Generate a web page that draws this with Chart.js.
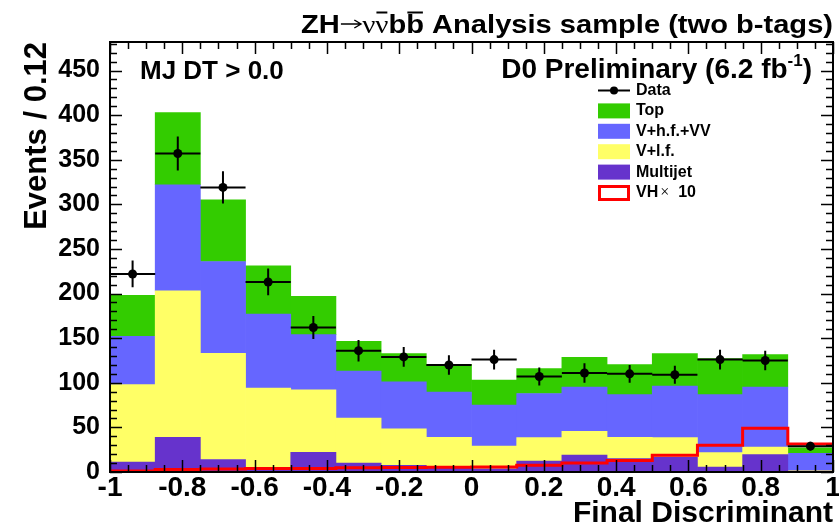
<!DOCTYPE html>
<html lang="en">
<head>
<meta charset="UTF-8">
<title>ZH analysis sample - final discriminant</title>
<script src="https://cdn.jsdelivr.net/npm/chart.js"></script>
<style>
  html, body { margin: 0; padding: 0; background: #fff; }
  #wrap { width: 839px; height: 530px; }
</style>
</head>
<body>
<div id="wrap"><canvas id="discChart" width="839" height="530"></canvas></div>
<script>
// histogram binning of the final discriminant (16 bins)
const binEdges = [-1, -0.875, -0.75, -0.625, -0.5, -0.375, -0.25, -0.125, 0,
                  0.125, 0.25, 0.375, 0.5, 0.625, 0.75, 0.875, 1];

// expected events per process, stacked bottom to top
const multijet = [11, 39, 14, 5, 22, 10, 7.5, 5.6, 3.5, 12.3, 19, 15, 16.8, 5.6, 19.5, 1];
const vlf      = [87, 164, 119, 89, 70, 50.5, 41, 33.4, 25.5, 26.2, 26.6, 24, 21.7, 16.1, 8.5, 0.5];
const vhfVV    = [54, 119, 103, 83, 62, 52.5, 52.5, 50.7, 46, 49.5, 49.7, 47.8, 57.9, 65.1, 67.3, 19.5];
const topBkg   = [46, 81, 69, 54, 43, 33.5, 31.7, 31, 28, 28, 33.3, 33.6, 36.3, 40.2, 36.3, 6];

// signal scaled by 10
const vhTimes10 = [1.2, 2.7, 3.4, 3.8, 4, 4.8, 5, 5.3, 5.6, 7.5, 10, 13, 18.7, 30, 49, 31.5];

// observed data and its errors
const dataCounts = [222, 357, 319, 213, 162, 136, 129, 120, 126, 107, 111, 110, 109, 126, 125, 29];
const dataErrors = [15, 19, 18, 15, 13, 12, 11, 11, 11, 10, 11, 10, 10, 11, 11, 5];

const xTickLabels = ['-1', '-0.8', '-0.6', '-0.4', '-0.2', '0', '0.2', '0.4', '0.6', '0.8', '1'];
const legendLabels = ['Data', 'Top', 'V+h.f.+VV', 'V+l.f.', 'Multijet', 'VH'];

const COLORS = {
  top: '#33cc00',
  vhf: '#6666ff',
  vlf: '#ffff66',
  mj: '#6633cc',
  vh: '#ff0000'
};
const FONT = "'Liberation Sans', Arial, Helvetica, sans-serif";
const SYMFONT = "'Liberation Serif', 'DejaVu Serif', serif";

const centers = binEdges.slice(0, -1).map((lo, i) => (lo + binEdges[i + 1]) / 2);
const asPoints = arr => arr.map((v, i) => ({ x: centers[i], y: v }));

function barSet(label, values, color) {
  return {
    type: 'bar',
    label: label,
    data: asPoints(values),
    backgroundColor: color,
    borderWidth: 0,
    barPercentage: 1,
    categoryPercentage: 1,
    order: 3
  };
}

// draw a run of text pieces with their own fonts, right aligned at xRight;
// fitWidth stretches the run horizontally to that width
function drawPieces(ctx, pieces, xRight, baseline, fitWidth) {
  let total = 0;
  pieces.forEach(p => {
    if (p.text !== undefined) { ctx.font = p.font; p.w = ctx.measureText(p.text).width; }
    total += p.w;
  });
  ctx.save();
  ctx.translate(xRight, 0);
  if (fitWidth) ctx.scale(fitWidth / total, 1);
  let cx = -total;
  pieces.forEach(p => {
    if (p.draw) {
      p.draw(cx, baseline);
    } else {
      ctx.font = p.font;
      ctx.fillText(p.text, cx, baseline + (p.dy || 0));
    }
    if (p.bar) {
      ctx.save();
      ctx.lineWidth = 2;
      ctx.beginPath();
      ctx.moveTo(cx + 1, p.barY);
      ctx.lineTo(cx + p.w - 1, p.barY);
      ctx.stroke();
      ctx.restore();
    }
    cx += p.w;
  });
  ctx.restore();
}

const rootStyle = {
  id: 'rootStyle',
  afterDatasetsDraw(chart) {
    const { ctx, scales: { x, y } } = chart;
    ctx.save();
    ctx.strokeStyle = '#000';
    ctx.lineWidth = 2;
    ctx.beginPath();
    dataCounts.forEach((n, i) => {
      const xl = x.getPixelForValue(binEdges[i]);
      const xh = x.getPixelForValue(binEdges[i + 1]);
      const xc = x.getPixelForValue(centers[i]);
      const yc = y.getPixelForValue(n);
      ctx.moveTo(xl, yc);
      ctx.lineTo(xh, yc);
      ctx.moveTo(xc, y.getPixelForValue(n - dataErrors[i]));
      ctx.lineTo(xc, y.getPixelForValue(n + dataErrors[i]));
    });
    ctx.stroke();
    ctx.restore();
  },
  afterDraw(chart) {
    const { ctx, chartArea: a, scales: { x, y } } = chart;
    ctx.save();
    ctx.strokeStyle = '#000';
    ctx.fillStyle = '#000';

    // tick marks on all four sides, pointing inwards
    ctx.lineWidth = 1.5;
    ctx.beginPath();
    for (let k = 0; k <= 40; k++) {
      const px = Math.round(x.getPixelForValue(-1 + k * 0.05)) + 0.5;
      const len = k % 4 === 0 ? 12 : 7;
      ctx.moveTo(px, a.bottom); ctx.lineTo(px, a.bottom - len);
      ctx.moveTo(px, a.top); ctx.lineTo(px, a.top + len);
    }
    for (let v = 0; v <= 480; v += 10) {
      const py = Math.round(y.getPixelForValue(v)) + 0.5;
      const len = v % 50 === 0 ? 12 : 7;
      ctx.moveTo(a.left, py); ctx.lineTo(a.left + len, py);
      ctx.moveTo(a.right, py); ctx.lineTo(a.right - len, py);
    }
    ctx.stroke();

    // frame
    ctx.lineWidth = 2;
    ctx.strokeRect(a.left, a.top, a.right - a.left, a.bottom - a.top);

    // axis titles
    ctx.textAlign = 'right';
    ctx.textBaseline = 'alphabetic';
    ctx.font = 'bold 30px ' + FONT;
    ctx.fillText('Final Discriminant', a.right, 522);
    ctx.save();
    ctx.font = 'bold 31px ' + FONT;
    ctx.translate(46, a.top);
    ctx.rotate(-Math.PI / 2);
    ctx.fillText('Events / 0.12', 0, 0);
    ctx.restore();

    // header line
    ctx.textAlign = 'left';
    const b26 = 'bold 26px ' + FONT, s26 = '26px ' + SYMFONT;
    const arrow = {
      w: 20,
      draw(cx, base) {
        const ay = base - 9;
        ctx.save();
        ctx.lineWidth = 1.3;
        ctx.beginPath();
        ctx.moveTo(cx + 1, ay); ctx.lineTo(cx + 19, ay);
        ctx.moveTo(cx + 13, ay - 4); ctx.lineTo(cx + 19, ay); ctx.lineTo(cx + 13, ay + 4);
        ctx.stroke();
        ctx.restore();
      }
    };
    drawPieces(ctx, [
      { text: 'ZH', font: b26 },
      arrow,
      { text: '\u03bd', font: s26 },
      { text: '\u03bd', font: s26, bar: true, barY: 12.5 },
      { text: 'b', font: b26 },
      { text: 'b', font: b26, bar: true, barY: 12.5 },
      { text: ' Analysis sample (two b-tags)', font: b26 }
    ], 833, 33, 532);

    ctx.font = 'bold 26px ' + FONT;
    ctx.fillText('MJ DT > 0.0', 140, 79);
    drawPieces(ctx, [
      { text: 'D0 Preliminary (6.2 fb', font: 'bold 28px ' + FONT },
      { text: '-1', font: 'bold 17px ' + FONT, dy: -12 },
      { text: ')', font: 'bold 28px ' + FONT }
    ], 812, 78);

    // legend
    const lx = 598, lw = 32, tx = 636;
    const rows = legendLabels.map((t, i) => 90.5 + i * 20.4);
    const fills = [null, COLORS.top, COLORS.vhf, COLORS.vlf, COLORS.mj, null];
    ctx.textBaseline = 'middle';
    legendLabels.forEach((label, i) => {
      const ry = rows[i];
      if (i === 0) {
        ctx.lineWidth = 2;
        ctx.beginPath();
        ctx.moveTo(lx, ry); ctx.lineTo(lx + lw, ry);
        ctx.stroke();
        ctx.beginPath();
        ctx.arc(lx + lw / 2, ry, 4, 0, Math.PI * 2);
        ctx.fill();
      } else if (i === legendLabels.length - 1) {
        ctx.lineWidth = 3;
        ctx.strokeStyle = COLORS.vh;
        ctx.strokeRect(lx + 1.5, ry - 6, lw - 3, 13);
        ctx.strokeStyle = '#000';
      } else {
        ctx.fillStyle = fills[i];
        ctx.fillRect(lx, ry - 7.5, lw, 15);
        ctx.fillStyle = '#000';
      }
      ctx.font = 'bold 16px ' + FONT;
      ctx.fillText(label, tx, ry);
      if (i === legendLabels.length - 1) {
        let w = ctx.measureText(label).width;
        ctx.font = '16px ' + SYMFONT;
        ctx.fillText('\u00d7', tx + w + 2, ry);
        w += ctx.measureText('\u00d7').width + 2;
        ctx.font = 'bold 16px ' + FONT;
        ctx.fillText('  10', tx + w, ry);
      }
    });
    ctx.restore();
  }
};

new Chart(document.getElementById('discChart'), {
  data: {
    datasets: [
      barSet('Multijet', multijet, COLORS.mj),
      barSet('V+l.f.', vlf, COLORS.vlf),
      barSet('V+h.f.+VV', vhfVV, COLORS.vhf),
      barSet('Top', topBkg, COLORS.top),
      {
        type: 'line',
        label: 'VH x 10',
        stack: 'signal',
        data: binEdges.map((e, i) => ({ x: e, y: vhTimes10[Math.min(i, vhTimes10.length - 1)] })),
        borderColor: COLORS.vh,
        borderWidth: 3,
        stepped: 'before',
        pointRadius: 0,
        fill: false,
        order: 2
      },
      {
        type: 'scatter',
        label: 'Data',
        stack: 'data',
        data: asPoints(dataCounts),
        backgroundColor: '#000',
        borderWidth: 0,
        pointRadius: 4.5,
        order: 1
      }
    ]
  },
  options: {
    responsive: false,
    animation: false,
    devicePixelRatio: 1,
    events: [],
    layout: { padding: { left: 0, right: 6, top: 42, bottom: 0 } },
    plugins: { legend: { display: false }, tooltip: { enabled: false } },
    scales: {
      x: {
        type: 'linear',
        stacked: true,
        offset: false,
        min: -1,
        max: 1,
        grid: { display: false, drawTicks: false },
        border: { display: false },
        ticks: {
          stepSize: 0.2,
          autoSkip: false,
          maxRotation: 0,
          padding: -1,
          color: '#000',
          font: { family: FONT, size: 28, weight: 'bold' },
          callback: (v, i) => xTickLabels[i]
        },
        afterFit(scale) {
          scale.height = 58;
          scale.paddingLeft = 0;
          scale.paddingRight = 0;
        }
      },
      y: {
        stacked: true,
        min: 0,
        max: 482,
        grid: { display: false, drawTicks: false },
        border: { display: false },
        ticks: {
          stepSize: 50,
          includeBounds: false,
          padding: 10,
          color: '#000',
          font: { family: FONT, size: 25, weight: 'bold' }
        },
        afterFit(scale) {
          scale.width = 110;
          scale.paddingTop = 0;
          scale.paddingBottom = 0;
        }
      }
    }
  },
  plugins: [rootStyle]
});
</script>
</body>
</html>
